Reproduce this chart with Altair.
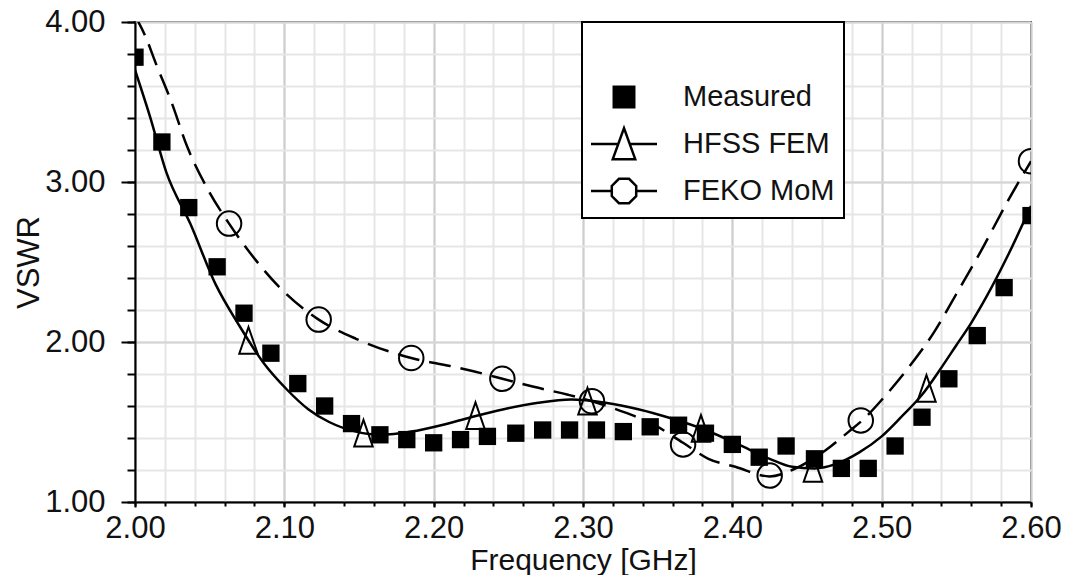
import altair as alt
import pandas as pd

# ---------------- data ----------------
series_names = ["Measured", "HFSS FEM", "FEKO MoM"]

meas_f = [2.000, 2.018, 2.036, 2.055, 2.073, 2.091, 2.109, 2.127, 2.145, 2.164,
          2.182, 2.200, 2.218, 2.236, 2.255, 2.273, 2.291, 2.309, 2.327, 2.345,
          2.364, 2.382, 2.400, 2.418, 2.436, 2.455, 2.473, 2.491, 2.509, 2.527,
          2.545, 2.564, 2.582, 2.600]
meas_v = [3.78, 3.25, 2.84, 2.47, 2.18, 1.93, 1.74, 1.60, 1.49, 1.42,
          1.39, 1.37, 1.39, 1.41, 1.43, 1.45, 1.45, 1.45, 1.44, 1.47,
          1.48, 1.43, 1.36, 1.28, 1.35, 1.27, 1.21, 1.21, 1.35, 1.53,
          1.77, 2.04, 2.34, 2.79]

hfss_f = [2.000, 2.010, 2.021, 2.037, 2.054, 2.070, 2.086, 2.102, 2.116, 2.130,
          2.148, 2.165, 2.185, 2.205, 2.225, 2.247, 2.270, 2.292, 2.315, 2.337,
          2.360, 2.382, 2.404, 2.425, 2.440, 2.455, 2.470, 2.485, 2.500, 2.513,
          2.527, 2.540, 2.550, 2.560, 2.570, 2.585, 2.600]
hfss_v = [3.70, 3.41, 3.06, 2.74, 2.36, 2.10, 1.87, 1.70, 1.58, 1.50,
          1.44, 1.42, 1.44, 1.48, 1.53, 1.58, 1.62, 1.64, 1.62, 1.58,
          1.52, 1.45, 1.36, 1.27, 1.22, 1.21, 1.24, 1.31, 1.41, 1.53,
          1.67, 1.84, 1.98, 2.12, 2.28, 2.55, 2.85]
hfss_mk_f = [2.076, 2.153, 2.228, 2.303, 2.379, 2.454, 2.530]
hfss_mk_v = [2.01, 1.43, 1.54, 1.63, 1.46, 1.21, 1.71]

feko_f = [2.000, 2.007, 2.014, 2.024, 2.035, 2.049, 2.063, 2.081, 2.098, 2.123,
          2.148, 2.185, 2.211, 2.234, 2.246, 2.267, 2.290, 2.306, 2.325, 2.348,
          2.367, 2.384, 2.402, 2.425, 2.440, 2.462, 2.478, 2.487, 2.503, 2.518,
          2.535, 2.550, 2.566, 2.585, 2.600]
feko_v = [4.04, 3.91, 3.74, 3.51, 3.22, 2.95, 2.74, 2.51, 2.33, 2.14,
          2.02, 1.90, 1.85, 1.80, 1.77, 1.72, 1.67, 1.63, 1.57, 1.48,
          1.37, 1.27, 1.22, 1.16, 1.20, 1.32, 1.44, 1.51, 1.67, 1.84,
          2.06, 2.30, 2.56, 2.89, 3.13]
feko_mk_f = [2.063, 2.123, 2.185, 2.246, 2.306, 2.367, 2.425, 2.486, 2.600]
feko_mk_v = [2.74, 2.14, 1.90, 1.77, 1.63, 1.36, 1.165, 1.51, 3.13]

x_major = [2.0, 2.1, 2.2, 2.3, 2.4, 2.5, 2.6]
y_major = [1.0, 2.0, 3.0, 4.0]
x_minor = [round(2.0 + 0.02 * i, 2) for i in range(31)]
y_minor = [round(1.0 + 0.2 * i, 1) for i in range(16)]

# ---------------- tables ----------------
df_meas = pd.DataFrame({"f": meas_f, "v": meas_v})
df_hfss = pd.DataFrame({"f": hfss_f, "v": hfss_v})
df_hfss_mk = pd.DataFrame({"f": hfss_mk_f, "v": hfss_mk_v})
df_feko = pd.DataFrame({"f": feko_f, "v": feko_v})
df_feko_mk = pd.DataFrame({"f": feko_mk_f, "v": feko_mk_v})
df_leg = pd.DataFrame({"series": series_names, "f": [2.3] * 3, "v": [2.0] * 3})

FONT = "Liberation Sans"
TXT = "#111111"

xs = alt.Scale(domain=[2.0, 2.6], nice=False, zero=False)
ys = alt.Scale(domain=[1.0, 4.0], nice=False, zero=False)

ax_x_minor = alt.Axis(orient="bottom", values=x_minor, grid=True, gridColor="#e6e6e6",
                      gridWidth=2, ticks=True, tickSize=4, tickWidth=2, tickColor="black",
                      labels=False, domain=False, title=None)
ax_y_minor = alt.Axis(orient="left", values=y_minor, grid=True, gridColor="#e6e6e6",
                      gridWidth=2, ticks=True, tickSize=8, tickWidth=2, tickColor="black",
                      labels=False, domain=False, title=None)
ax_x_major = alt.Axis(orient="bottom", values=x_major, format=".2f", grid=True,
                      gridColor="#cdcdcd", gridWidth=2, ticks=True, tickSize=5, tickWidth=2,
                      tickColor="black", labelFontSize=31, labelFont=FONT, labelColor=TXT,
                      labelPadding=6, labelFlush=False, labelOverlap=False,
                      domain=True, domainColor="black", domainWidth=2,
                      title="Frequency [GHz]", titleFontSize=30, titleFont=FONT,
                      titleColor=TXT, titleFontWeight="normal", titleY=43,
                      titleBaseline="top")
ax_y_major = alt.Axis(orient="left", values=y_major, format=".2f", grid=True,
                      gridColor="#d4d4d4", gridWidth=2, ticks=True, tickSize=14, tickWidth=2,
                      tickColor="black", labelFontSize=31, labelFont=FONT, labelColor=TXT,
                      labelPadding=16, labelFlush=False, labelOverlap=False,
                      domain=True, domainColor="black", domainWidth=2,
                      title="VSWR", titleFontSize=31, titleFont=FONT, titleColor=TXT,
                      titleFontWeight="normal", titleX=-90, titleY=240, titleAngle=270,
                      titleBaseline="bottom", titleAlign="center")

# custom symbols (unit = sqrt(size)/2 px)
TRI = "M0,-0.95L0.66,0.95L-0.66,0.95Z"
LEG_SQ = "M-0.62,-0.62H0.62V0.62H-0.62Z"
LEG_TRI = "M-2,0H-0.35M0.35,0H2M0,-0.96L0.68,0.92L-0.68,0.92Z"
LEG_OCT = ("M-2,0H-0.74M0.74,0H2M0.74,0.306L0.306,0.74L-0.306,0.74L-0.74,0.306"
           "L-0.74,-0.306L-0.306,-0.74L0.306,-0.74L0.74,-0.306Z")
LEG_SIZE = 1089

hfss_line = alt.Chart(df_hfss).mark_line(color="black", strokeWidth=2.5, interpolate="monotone",
                                         clip=True).encode(
    x=alt.X("f:Q", scale=xs, axis=ax_x_minor),
    y=alt.Y("v:Q", scale=ys, axis=ax_y_minor),
)
feko_line = alt.Chart(df_feko).mark_line(color="black", strokeWidth=2.5, interpolate="monotone",
                                         strokeDash=[22, 10], clip=True).encode(
    x=alt.X("f:Q", scale=xs, axis=ax_x_major),
    y=alt.Y("v:Q", scale=ys, axis=ax_y_major),
)
meas_pts = alt.Chart(df_meas).mark_point(shape="square", filled=True, color="black", size=300,
                                         opacity=1, clip=True).encode(
    x=alt.X("f:Q", scale=xs, axis=None),
    y=alt.Y("v:Q", scale=ys, axis=None),
)
hfss_pts = alt.Chart(df_hfss_mk).mark_point(shape=TRI, filled=False, color="black", size=784,
                                            strokeWidth=2, opacity=1, clip=True).encode(
    x=alt.X("f:Q", scale=xs, axis=None),
    y=alt.Y("v:Q", scale=ys, axis=None),
)
feko_pts = alt.Chart(df_feko_mk).mark_point(shape="circle", filled=False, color="black", size=600,
                                            strokeWidth=2, opacity=1, clip=True).encode(
    x=alt.X("f:Q", scale=xs, axis=None),
    y=alt.Y("v:Q", scale=ys, axis=None),
)

leg = alt.Legend(title=" ", orient="none", legendX=447, legendY=0, padding=9,
                 symbolSize=LEG_SIZE, symbolStrokeWidth=2.5, symbolStrokeColor="black",
                 symbolOpacity=1, symbolOffset=15, labelOffset=41, rowPadding=5,
                 gridAlign="all", labelFontSize=29,
                 labelExpr="datum.label + '\u00a0\u2009'",
                 labelFont=FONT, labelColor=TXT, labelLimit=400, titleFontSize=30,
                 titlePadding=18, titleLimit=600, strokeColor="black", fillColor="white")
legend_layer = alt.Chart(df_leg).transform_filter("false").mark_point(
    filled=True, size=LEG_SIZE, strokeWidth=2.5, opacity=1).encode(
    x=alt.X("f:Q", scale=xs, axis=None),
    y=alt.Y("v:Q", scale=ys, axis=None),
    shape=alt.Shape("series:N", scale=alt.Scale(domain=series_names,
                                                 range=[LEG_SQ, LEG_TRI, LEG_OCT]), legend=leg),
    fill=alt.Fill("series:N", scale=alt.Scale(domain=series_names,
                                               range=["black", "white", "white"]), legend=leg),
    stroke=alt.Stroke("series:N", scale=alt.Scale(domain=series_names,
                                                   range=["black", "black", "black"]), legend=leg),
)

chart = alt.layer(hfss_line, feko_line, meas_pts, hfss_pts, feko_pts, legend_layer).resolve_axis(
    x="independent", y="independent"
).properties(
    width=896, height=480,
    autosize=alt.AutoSizeParams(type="none"),
    padding={"left": 135, "top": 22, "right": 40, "bottom": 73},
    background="white",
).configure(font=FONT).configure_view(stroke="black", strokeWidth=2).configure_legend(strokeWidth=2)

chart.save("out.html", embed_options={"renderer": "svg", "actions": False})
